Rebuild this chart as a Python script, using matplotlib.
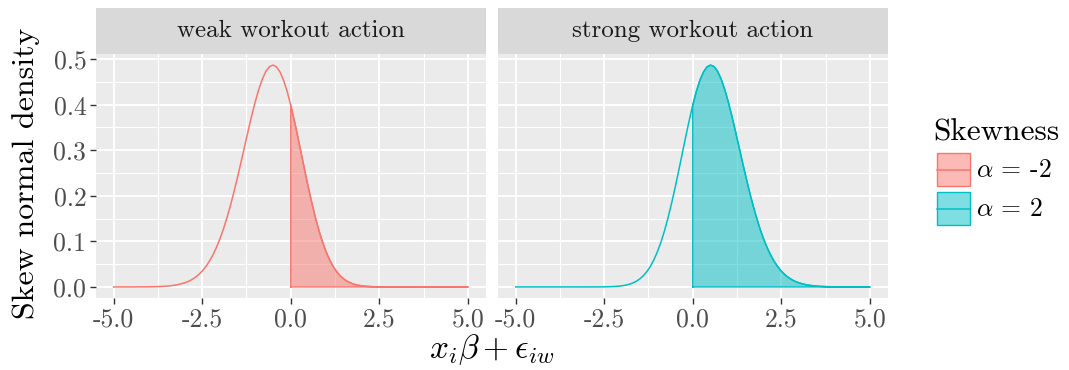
import numpy as np
import matplotlib
matplotlib.use("Agg")
from matplotlib import pyplot as plt
from matplotlib.patches import Rectangle
from matplotlib.lines import Line2D

plt.rcParams["font.family"] = ["cmr10", "DejaVu Serif"]
plt.rcParams["mathtext.fontset"] = "cm"
plt.rcParams["axes.unicode_minus"] = False

# values (x grid shared by both panels)
x = [-5.0, -4.5, -4.0, -3.8, -3.6, -3.4, -3.2,
     -3.0, -2.9, -2.8, -2.7, -2.6, -2.5, -2.4, -2.3, -2.2, -2.1,
     -2.0, -1.9, -1.8, -1.7, -1.6, -1.5, -1.4, -1.3, -1.2, -1.1,
     -1.0, -0.9, -0.8, -0.7, -0.6, -0.5, -0.4, -0.3, -0.2, -0.1,
     0.0,
     0.1, 0.2, 0.3, 0.4, 0.5, 0.6, 0.7, 0.8, 0.9, 1.0,
     1.1, 1.2, 1.3, 1.4, 1.5, 1.6, 1.7, 1.8, 1.9, 2.0,
     2.1, 2.2, 2.3, 2.4, 2.5, 2.6, 2.7, 2.8, 2.9, 3.0,
     3.2, 3.4, 3.6, 3.8, 4.0, 4.5, 5.0]
strong_density = [0.0, 0.0, 0.0, 0.0, 0.0, 0.0, 0.0,
                  0.00001, 0.00002, 0.00004, 0.00007, 0.00013, 0.00022,
                  0.00037, 0.00061, 0.00099, 0.00157,
                  0.00246, 0.00377, 0.00567, 0.00838, 0.01216, 0.01731,
                  0.02418, 0.03318, 0.04469, 0.05911,
                  0.07678, 0.09795, 0.12275, 0.15111, 0.18277, 0.21725,
                  0.25380, 0.29145, 0.32905, 0.36533,
                  0.39894,
                  0.42857, 0.45303, 0.47133, 0.48274, 0.48688, 0.48368,
                  0.47340, 0.45664, 0.43422, 0.40716,
                  0.37659, 0.34368, 0.30956, 0.27527, 0.24173, 0.20969,
                  0.17972, 0.15223, 0.12746, 0.10553,
                  0.08640, 0.06996, 0.05605, 0.04442, 0.03484, 0.02704,
                  0.02077, 0.01579, 0.01188, 0.00885,
                  0.00476, 0.00246, 0.00122, 0.00058, 0.00027, 0.00003, 0.0]
weak_density = strong_density[::-1]

panels = ["weak workout action", "strong workout action"]
series = [weak_density, strong_density]
colors = ["#F8766D", "#00BFC4"]
legend_labels = [r"$\alpha$ = -2", r"$\alpha$ = 2"]

x_ticks = [-5.0, -2.5, 0.0, 2.5, 5.0]
x_ticklabels = ["-5.0", "-2.5", "0.0", "2.5", "5.0"]
y_ticks = [0.0, 0.1, 0.2, 0.3, 0.4, 0.5]
y_ticklabels = ["0.0", "0.1", "0.2", "0.3", "0.4", "0.5"]

W, H = 1069, 370
fig = plt.figure(figsize=(W / 100, H / 100), dpi=100)

xv = np.array(x)
panel_left = [96, 498]
panel_w = 389.5
top, bottom = 54, 298
strip_top = 8

for i, (name, dens, col) in enumerate(zip(panels, series, colors)):
    dens = np.array(dens)
    ax = fig.add_axes([panel_left[i] / W, (H - bottom) / H,
                       panel_w / W, (bottom - top) / H])
    ax.set_facecolor("#EBEBEB")
    for s in ax.spines.values():
        s.set_visible(False)
    # grid
    for gx in [-3.75, -1.25, 1.25, 3.75]:
        ax.axvline(gx, color="white", lw=0.8, zorder=0)
    for gy in [0.05, 0.15, 0.25, 0.35, 0.45]:
        ax.axhline(gy, color="white", lw=0.8, zorder=0)
    for gx in x_ticks:
        ax.axvline(gx, color="white", lw=1.3, zorder=0)
    for gy in y_ticks:
        ax.axhline(gy, color="white", lw=1.3, zorder=0)

    mask = xv >= 0
    ax.fill_between(xv, dens, where=mask, facecolor=col, alpha=0.5,
                    edgecolor="none", zorder=2)
    xs = xv[mask]
    ys = dens[mask]
    ax.plot(np.r_[xs[0], xs, xs[-1], xs[0]], np.r_[0, ys, 0, 0],
            color=col, lw=1.0, zorder=3)
    ax.plot(xv, dens, color=col, lw=1.1, zorder=4)

    ax.set_xlim(-5.5, 5.5)
    ax.set_ylim(-0.0243, 0.5112)
    ax.set_xticks(x_ticks)
    ax.set_xticklabels(x_ticklabels)
    ax.set_yticks(y_ticks)
    if i == 0:
        ax.set_yticklabels(y_ticklabels)
    else:
        ax.tick_params(axis="y", left=False, labelleft=False)
    ax.tick_params(length=4, width=1.0, color="#333333", labelcolor="#4D4D4D",
                   labelsize=18.5, pad=3)

    sax = fig.add_axes([panel_left[i] / W, (H - top) / H,
                        panel_w / W, (top - strip_top) / H])
    sax.set_facecolor("#D9D9D9")
    sax.set_xticks([])
    sax.set_yticks([])
    for s in sax.spines.values():
        s.set_visible(False)
    sax.text(0.5, 0.5, name, ha="center", va="center", fontsize=18,
             color="#1A1A1A", transform=sax.transAxes)

fig.text(26 / W, (H - 173) / H, "Skew normal density", rotation=90,
         ha="center", va="center", fontsize=23)
fig.text(492 / W, (H - 350) / H, r"$x_i\beta + \epsilon_{iw}$",
         ha="center", va="center", fontsize=24)

# legend
lax = fig.add_axes([0, 0, 1, 1], facecolor="none")
lax.set_xlim(0, W)
lax.set_ylim(H, 0)
lax.axis("off")
lax.text(933, 133, "Skewness", fontsize=22.5, ha="left", va="center")
for k, (col, lab) in enumerate(zip(colors, legend_labels)):
    y0 = 153 + k * 39
    lax.add_patch(Rectangle((937, y0), 33, 33, facecolor=col, alpha=0.5,
                            edgecolor="none"))
    lax.add_patch(Rectangle((937, y0), 33, 33, facecolor="none",
                            edgecolor=col, lw=1.0))
    lax.add_line(Line2D([937, 970], [y0 + 16.5, y0 + 16.5], color=col, lw=1.1))
    lax.text(976, y0 + 17, lab, fontsize=18.5, ha="left", va="center")

fig.savefig("out.png", dpi=100, facecolor="white")
